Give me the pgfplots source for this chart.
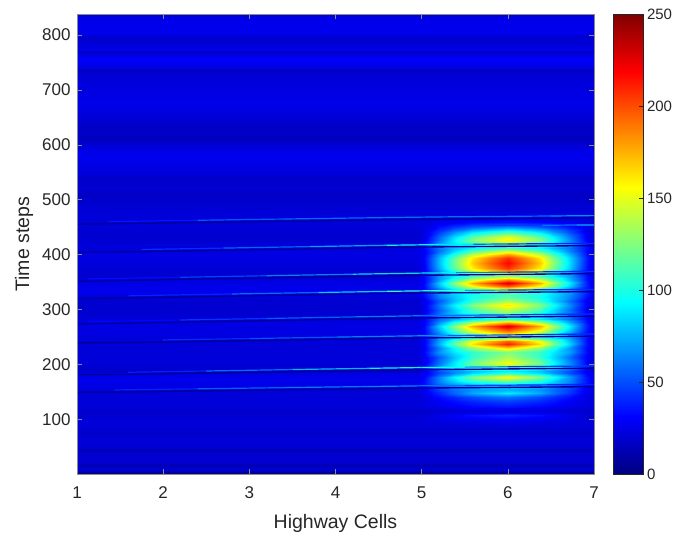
\documentclass[border=0pt]{standalone}
\usepackage{fontspec}
\setmainfont{Liberation Sans}
\usepackage{pgfplots}
\pgfplotsset{compat=1.18}
\definecolor{txt}{gray}{0.15}
\definecolor{frm}{gray}{0.55}
\begin{document}
\begin{tikzpicture}[x=1pt,y=1pt]
\path[use as bounding box] (0,0) rectangle (676,534);
\begin{axis}[
  at={(77pt,60pt)},anchor=south west,scale only axis,width=517pt,height=459.5pt,
  xmin=1,xmax=7,ymin=1,ymax=837,
  xtick={1,2,...,7},ytick={100,200,...,800},
  /pgf/number format/assume math mode=true,
  tick label style={font=\fontsize{17}{17}\selectfont,text=txt},
  xticklabel style={yshift=-9pt},
  yticklabel style={xshift=-3pt},
  label style={font=\fontsize{19.5}{19.5}\selectfont,text=txt},
  xlabel={Highway Cells},ylabel={Time steps},
  xlabel style={at={(axis description cs:0.5,0)},anchor=center,yshift=-49pt},
  ylabel style={at={(axis description cs:0,0.5)},anchor=center,xshift=0pt,yshift=53pt},
  axis line style={color=frm,line width=0.45pt},
  tick style={color=frm,line width=0.45pt},
  tick align=inside,major tick length=5pt,
  axis on top,
  colormap/jet,
  point meta min=0,point meta max=250,
  dk/.style={mesh,point meta=explicit,line width=1.35pt,line cap=butt},
  st/.style={mesh,point meta=explicit,line width=1.2pt,line cap=butt},
]
% upper background
\addplot[surf,shader=interp,mesh/cols=2,point meta=explicit] table[row sep=\\,meta=c] {
x y c\\
1 474 22\\7 474 22\\1 490 20\\7 490 20\\1 512 17\\7 512 17\\1 518 20\\7 518 20\\1 542 18\\7 542 18\\1 545 22\\7 545 22\\
1 578 27\\7 578 27\\1 591 25\\7 591 25\\1 611 16\\7 611 16\\1 614 14\\7 614 14\\1 618 18\\7 618 18\\1 633 17\\7 633 17\\
1 649 21\\7 649 21\\1 676 26\\7 676 26\\1 700 24\\7 700 24\\1 718 22\\7 718 22\\1 733 20\\7 733 20\\1 736 14\\7 736 14\\
1 740 24\\7 740 24\\1 754 30\\7 754 30\\1 765 24\\7 765 24\\1 769 16\\7 769 16\\1 775 26\\7 775 26\\1 787 20\\7 787 20\\
1 798 20\\7 798 20\\1 804 27\\7 804 27\\1 827 26\\7 827 26\\1 837 22\\7 837 22\\
};
% lower background
\addplot[surf,shader=interp,mesh/cols=2,point meta=explicit] table[row sep=\\,meta=c] {
x y c\\
1 1 6\\7 1 6\\1 4 4\\7 4 4\\1 6.5 16\\7 6.5 16\\1 12 20\\7 12 20\\1 17 12\\7 17 12\\1 23 20\\7 23 20\\1 39 20\\7 39 20\\
1 45 12\\7 45 12\\1 48 20\\7 48 20\\1 63 22\\7 63 22\\1 77 18\\7 77 18\\1 88 22\\7 88 22\\
};
% glow zone
\addplot[surf,shader=interp,mesh/cols=14,point meta=explicit] table[row sep=\\,meta=c] {
x y c\\
1 474 22\\4.95 474 22\\5.03 474 22\\5.2 474 22\\5.38 474 22\\5.6 474 22\\5.78 474 22\\6 474 23\\6.2 474 22\\6.37 474 22\\6.52 474 22\\6.72 474 22\\6.92 474 22\\7 474 22\\
1 460 22\\4.95 460 22\\5.03 460 23\\5.2 460 26\\5.38 460 28\\5.6 460 32\\5.78 460 33\\6 460 35\\6.2 460 33\\6.37 460 32\\6.52 460 29\\6.72 460 26\\6.92 460 23\\7 460 22\\
1 451 22\\4.95 451 22\\5.03 451 24\\5.2 451 34\\5.38 451 44\\5.6 451 54\\5.78 451 59\\6 451 65\\6.2 451 59\\6.37 451 54\\6.52 451 46\\6.72 451 36\\6.92 451 25\\7 451 22\\
1 441 20\\4.95 441 20\\5.03 441 24\\5.2 441 45\\5.38 441 65\\5.6 441 88\\5.78 441 98\\6 441 110\\6.2 441 98\\6.37 441 88\\6.52 441 70\\6.72 441 49\\6.92 441 26\\7 441 20\\
1 432 20\\4.95 432 20\\5.03 432 25\\5.2 432 56\\5.38 432 85\\5.6 432 118\\5.78 432 133\\6 432 150\\6.2 432 133\\6.37 432 118\\6.52 432 92\\6.72 432 62\\6.92 432 29\\7 432 20\\
1 427 20\\4.95 427 20\\5.03 427 26\\5.2 427 59\\5.38 427 90\\5.6 427 125\\5.78 427 142\\6 427 160\\6.2 427 142\\6.37 427 125\\6.52 427 97\\6.72 427 65\\6.92 427 30\\7 427 20\\
1 420 22\\4.95 420 22\\5.03 420 33\\5.2 420 68\\5.38 420 88\\5.6 420 108\\5.78 420 118\\6 420 130\\6.2 420 118\\6.37 420 108\\6.52 420 90\\6.72 420 70\\6.92 420 36\\7 420 22\\
1 412 22\\4.95 412 22\\5.03 412 32\\5.2 412 60\\5.38 412 78\\5.6 412 93\\5.78 412 102\\6 412 110\\6.2 412 102\\6.37 412 93\\6.52 412 78\\6.72 412 60\\6.92 412 34\\7 412 22\\
1 407 24\\4.95 407 24\\5.03 407 29\\5.2 407 58\\5.38 407 84\\5.6 407 115\\5.78 407 129\\6 407 145\\6.2 407 129\\6.37 407 115\\6.52 407 91\\6.72 407 63\\6.92 407 32\\7 407 24\\
1 400 24\\4.95 400 24\\5.03 400 30\\5.2 400 69\\5.38 400 104\\5.6 400 145\\5.78 400 164\\6 400 185\\6.2 400 164\\6.37 400 145\\6.52 400 113\\6.72 400 76\\6.92 400 35\\7 400 24\\
1 394 24\\4.95 394 24\\5.03 394 31\\5.2 394 76\\5.38 394 116\\5.6 394 162\\5.78 394 184\\6 394 208\\6.2 394 184\\6.37 394 162\\6.52 394 125\\6.72 394 83\\6.92 394 37\\7 394 24\\
1 385 22\\4.95 385 22\\5.03 385 30\\5.2 385 77\\5.38 385 120\\5.6 385 169\\5.78 385 193\\6 385 218\\6.2 385 193\\6.37 385 169\\6.52 385 130\\6.72 385 85\\6.92 385 36\\7 385 22\\
1 376 22\\4.95 376 22\\5.03 376 29\\5.2 376 74\\5.38 376 115\\5.6 376 161\\5.78 376 184\\6 376 208\\6.2 376 184\\6.37 376 161\\6.52 376 124\\6.72 376 82\\6.92 376 35\\7 376 22\\
1 369 20\\4.95 369 20\\5.03 369 26\\5.2 369 63\\5.38 369 98\\5.6 369 136\\5.78 369 155\\6 369 175\\6.2 369 155\\6.37 369 136\\6.52 369 105\\6.72 369 70\\6.92 369 31\\7 369 20\\
1 361 20\\4.95 361 20\\5.03 361 32\\5.2 361 68\\5.38 361 90\\5.6 361 110\\5.78 361 118\\6 361 130\\6.2 361 118\\6.37 361 110\\6.52 361 92\\6.72 361 70\\6.92 361 34\\7 361 20\\
1 354 24\\4.95 354 24\\5.03 354 31\\5.2 354 70\\5.38 354 107\\5.6 354 148\\5.78 354 168\\6 354 190\\6.2 354 168\\6.37 354 148\\6.52 354 115\\6.72 354 77\\6.92 354 36\\7 354 24\\
1 349 24\\4.95 349 24\\5.03 349 32\\5.2 349 81\\5.38 349 126\\5.6 349 177\\5.78 349 201\\6 349 228\\6.2 349 201\\6.37 349 177\\6.52 349 136\\6.72 349 89\\6.92 349 38\\7 349 24\\
1 343 26\\4.95 343 26\\5.03 343 33\\5.2 343 75\\5.38 343 113\\5.6 343 156\\5.78 343 177\\6 343 200\\6.2 343 177\\6.37 343 156\\6.52 343 122\\6.72 343 82\\6.92 343 38\\7 343 26\\
1 338 26\\4.95 338 26\\5.03 338 31\\5.2 338 62\\5.38 338 90\\5.6 338 123\\5.78 338 138\\6 338 155\\6.2 338 138\\6.37 338 123\\6.52 338 97\\6.72 338 67\\6.92 338 35\\7 338 26\\
1 330 26\\4.95 330 26\\5.03 330 36\\5.2 330 66\\5.38 330 84\\5.6 330 100\\5.78 330 106\\6 330 115\\6.2 330 106\\6.37 330 100\\6.52 330 86\\6.72 330 68\\6.92 330 38\\7 330 26\\
1 323 22\\4.95 323 22\\5.03 323 32\\5.2 323 62\\5.38 323 80\\5.6 323 98\\5.78 323 106\\6 323 115\\6.2 323 106\\6.37 323 98\\6.52 323 84\\6.72 323 64\\6.92 323 34\\7 323 22\\
1 316 20\\4.95 316 20\\5.03 316 25\\5.2 316 52\\5.38 316 77\\5.6 316 106\\5.78 316 120\\6 316 135\\6.2 316 120\\6.37 316 106\\6.52 316 83\\6.72 316 57\\6.92 316 28\\7 316 20\\
1 309 20\\4.95 309 20\\5.03 309 26\\5.2 309 60\\5.38 309 91\\5.6 309 126\\5.78 309 144\\6 309 162\\6.2 309 144\\6.37 309 126\\6.52 309 98\\6.72 309 65\\6.92 309 30\\7 309 20\\
1 299 20\\4.95 299 20\\5.03 299 25\\5.2 299 54\\5.38 299 80\\5.6 299 110\\5.78 299 124\\6 299 140\\6.2 299 124\\6.37 299 110\\6.52 299 86\\6.72 299 58\\6.92 299 28\\7 299 20\\
1 290 20\\4.95 290 20\\5.03 290 30\\5.2 290 60\\5.38 290 80\\5.6 290 96\\5.78 290 105\\6 290 115\\6.2 290 105\\6.37 290 96\\6.52 290 82\\6.72 290 62\\6.92 290 32\\7 290 20\\
1 283 22\\4.95 283 22\\5.03 283 30\\5.2 283 56\\5.38 283 74\\5.6 283 90\\5.78 283 97\\6 283 105\\6.2 283 97\\6.37 283 90\\6.52 283 76\\6.72 283 58\\6.92 283 32\\7 283 22\\
1 278 24\\4.95 278 24\\5.03 278 30\\5.2 278 65\\5.38 278 97\\5.6 278 133\\5.78 278 151\\6 278 170\\6.2 278 151\\6.37 278 133\\6.52 278 104\\6.72 278 71\\6.92 278 34\\7 278 24\\
1 270 24\\4.95 270 24\\5.03 270 32\\5.2 270 81\\5.38 270 126\\5.6 270 177\\5.78 270 201\\6 270 228\\6.2 270 201\\6.37 270 177\\6.52 270 136\\6.72 270 89\\6.92 270 38\\7 270 24\\
1 263 24\\4.95 263 24\\5.03 263 31\\5.2 263 73\\5.38 263 112\\5.6 263 156\\5.78 263 177\\6 263 200\\6.2 263 177\\6.37 263 156\\6.52 263 121\\6.72 263 80\\6.92 263 36\\7 263 24\\
1 256 24\\4.95 256 24\\5.03 256 30\\5.2 256 63\\5.38 256 94\\5.6 256 130\\5.78 256 147\\6 256 165\\6.2 256 147\\6.37 256 130\\6.52 256 102\\6.72 256 69\\6.92 256 34\\7 256 24\\
1 249 22\\4.95 249 22\\5.03 249 32\\5.2 249 68\\5.38 249 88\\5.6 249 106\\5.78 249 115\\6 249 125\\6.2 249 115\\6.37 249 106\\6.52 249 90\\6.72 249 70\\6.92 249 34\\7 249 22\\
1 243 22\\4.95 243 22\\5.03 243 29\\5.2 243 70\\5.38 243 108\\5.6 243 152\\5.78 243 173\\6 243 195\\6.2 243 173\\6.37 243 152\\6.52 243 117\\6.72 243 77\\6.92 243 34\\7 243 22\\
1 238 22\\4.95 238 22\\5.03 238 30\\5.2 238 75\\5.38 238 117\\5.6 238 164\\5.78 238 187\\6 238 212\\6.2 238 187\\6.37 238 164\\6.52 238 126\\6.72 238 83\\6.92 238 35\\7 238 22\\
1 230 22\\4.95 230 22\\5.03 230 28\\5.2 230 62\\5.38 230 93\\5.6 230 129\\5.78 230 146\\6 230 165\\6.2 230 146\\6.37 230 129\\6.52 230 101\\6.72 230 68\\6.92 230 32\\7 230 22\\
1 223 22\\4.95 223 22\\5.03 223 32\\5.2 223 68\\5.38 223 88\\5.6 223 106\\5.78 223 115\\6 223 125\\6.2 223 115\\6.37 223 106\\6.52 223 90\\6.72 223 70\\6.92 223 34\\7 223 22\\
1 214 22\\4.95 214 22\\5.03 214 27\\5.2 214 54\\5.38 214 78\\5.6 214 107\\5.78 214 120\\6 214 135\\6.2 214 120\\6.37 214 107\\6.52 214 84\\6.72 214 58\\6.92 214 30\\7 214 22\\
1 203 22\\4.95 203 22\\5.03 203 27\\5.2 203 59\\5.38 203 88\\5.6 203 122\\5.78 203 138\\6 203 155\\6.2 203 138\\6.37 203 122\\6.52 203 95\\6.72 203 65\\6.92 203 31\\7 203 22\\
1 196 20\\4.95 196 20\\5.03 196 32\\5.2 196 68\\5.38 196 88\\5.6 196 108\\5.78 196 118\\6 196 130\\6.2 196 118\\6.37 196 108\\6.52 196 90\\6.72 196 70\\6.92 196 34\\7 196 20\\
1 188 18\\4.95 188 18\\5.03 188 26\\5.2 188 50\\5.38 188 66\\5.6 188 78\\5.78 188 84\\6 188 90\\6.2 188 84\\6.37 188 78\\6.52 188 66\\6.72 188 50\\6.92 188 28\\7 188 18\\
1 185 24\\4.95 185 24\\5.03 185 27\\5.2 185 47\\5.38 185 64\\5.6 185 85\\5.78 185 94\\6 185 105\\6.2 185 94\\6.37 185 85\\6.52 185 69\\6.72 185 50\\6.92 185 30\\7 185 24\\
1 178 26\\4.95 178 26\\5.03 178 31\\5.2 178 63\\5.38 178 92\\5.6 178 125\\5.78 178 141\\6 178 158\\6.2 178 141\\6.37 178 125\\6.52 178 99\\6.72 178 68\\6.92 178 35\\7 178 26\\
1 168 26\\4.95 168 26\\5.03 168 34\\5.2 168 62\\5.38 168 80\\5.6 168 96\\5.78 168 103\\6 168 110\\6.2 168 103\\6.37 168 96\\6.52 168 82\\6.72 168 64\\6.92 168 36\\7 168 26\\
1 161 24\\4.95 161 24\\5.03 161 30\\5.2 161 50\\5.38 161 62\\5.6 161 72\\5.78 161 76\\6 161 80\\6.2 161 76\\6.37 161 72\\6.52 161 62\\6.72 161 50\\6.92 161 30\\7 161 24\\
1 154 22\\4.95 154 22\\5.03 154 28\\5.2 154 46\\5.38 154 58\\5.6 154 68\\5.78 154 72\\6 154 75\\6.2 154 72\\6.37 154 68\\6.52 154 58\\6.72 154 46\\6.92 154 28\\7 154 22\\
1 148 22\\4.95 148 22\\5.03 148 25\\5.2 148 41\\5.38 148 56\\5.6 148 73\\5.78 148 81\\6 148 90\\6.2 148 81\\6.37 148 73\\6.52 148 59\\6.72 148 44\\6.92 148 27\\7 148 22\\
1 141 22\\4.95 141 22\\5.03 141 24\\5.2 141 33\\5.38 141 41\\5.6 141 50\\5.78 141 55\\6 141 60\\6.2 141 55\\6.37 141 50\\6.52 141 43\\6.72 141 34\\6.92 141 25\\7 141 22\\
1 132 22\\4.95 132 22\\5.03 132 23\\5.2 132 28\\5.38 132 33\\5.6 132 39\\5.78 132 42\\6 132 45\\6.2 132 42\\6.37 132 39\\6.52 132 35\\6.72 132 29\\6.92 132 24\\7 132 22\\
1 123 22\\4.95 123 22\\5.03 123 23\\5.2 123 26\\5.38 123 28\\5.6 123 32\\5.78 123 33\\6 123 35\\6.2 123 33\\6.37 123 32\\6.52 123 29\\6.72 123 26\\6.92 123 23\\7 123 22\\
1 116 18\\4.95 116 18\\5.03 116 18\\5.2 116 19\\5.38 116 19\\5.6 116 20\\5.78 116 20\\6 116 20\\6.2 116 20\\6.37 116 20\\6.52 116 19\\6.72 116 19\\6.92 116 18\\7 116 18\\
1 108 20\\4.95 108 20\\5.03 108 21\\5.2 108 26\\5.38 108 30\\5.6 108 35\\5.78 108 37\\6 108 40\\6.2 108 37\\6.37 108 35\\6.52 108 31\\6.72 108 26\\6.92 108 21\\7 108 20\\
1 99 22\\4.95 99 22\\5.03 99 22\\5.2 99 24\\5.38 99 25\\5.6 99 26\\5.78 99 27\\6 99 28\\6.2 99 27\\6.37 99 26\\6.52 99 25\\6.72 99 24\\6.92 99 22\\7 99 22\\
1 88 22\\4.95 88 22\\5.03 88 22\\5.2 88 22\\5.38 88 22\\5.6 88 22\\5.78 88 22\\6 88 23\\6.2 88 22\\6.37 88 22\\6.52 88 22\\6.72 88 22\\6.92 88 22\\7 88 22\\
};
% dark lines
\addplot[dk] coordinates {(1,455.5)[6] (1.36,456.2)[6] (4.86,464)[6] (7,467)[6]};
\addplot[dk] coordinates {(1,404.5)[6] (1.75,405.4)[6] (4.86,413.8)[6] (7,416.5)[6]};
\addplot[dk] coordinates {(1,351.6)[6] (4.86,362.3)[6] (7,365.6)[6]};
\addplot[dk] coordinates {(1,320.5)[6] (1.6,321.3)[6] (4.86,330)[6] (7,332.8)[6]};
\addplot[dk] coordinates {(1,273.8)[6] (4.86,284.6)[6] (7,288.2)[6]};
\addplot[dk] coordinates {(1,239.5)[6] (2,240.9)[6] (4.8,248.1)[6] (7,251.8)[6]};
\addplot[dk] coordinates {(1,181.5)[6] (1.59,182.1)[6] (4.86,190.5)[6] (7,193.6)[6]};
\addplot[dk] coordinates {(1,149.5)[6] (1.44,149.9)[6] (4.86,157.2)[6] (7,159.9)[6]};
% streaks
\addplot[st] coordinates {(1.36,460.2)[28] (2.4,462.6)[45] (3.4,464.9)[60] (4.4,467.1)[55] (5.2,468.7)[62] (5.8,469.5)[55] (6.5,470.4)[60] (7,471.1)[72]};
\addplot[st] coordinates {(1.75,409.4)[35] (2.7,412)[50] (3.7,414.7)[62] (4.6,417.1)[80] (5.2,418.4)[105] (5.6,419)[70] (6,419.5)[42] (7,420.5)[38]};
\addplot[st] coordinates {(1.13,355.9)[28] (2.2,358.9)[40] (3.2,361.7)[55] (4.2,364.5)[70] (5,366.5)[100] (5.4,367.3)[80] (6,368.2)[45] (7,369.6)[40]};
\addplot[st] coordinates {(1.6,325.3)[35] (2.8,328.5)[45] (3.8,331.2)[70] (4.6,333.3)[95] (5.1,334.4)[115] (5.5,335)[100] (6,335.7)[45] (7,336.8)[40]};
\addplot[st] coordinates {(1.13,278.2)[26] (2.2,281.2)[38] (3.2,283.9)[50] (4.2,286.8)[58] (5,289)[65] (5.6,290)[50] (6,290.5)[42] (7,292.2)[40]};
\addplot[st] coordinates {(2,244.9)[35] (3,247.4)[48] (4,250)[55] (4.8,252.1)[70] (5.3,252.9)[65] (6,254)[42] (7,255.8)[40]};
\addplot[st] coordinates {(1.59,186.1)[30] (2.5,188.4)[48] (3.5,191)[68] (4.4,193.3)[85] (5,194.7)[100] (5.5,195.4)[90] (6,196.1)[48] (7,197.6)[42]};
\addplot[st] coordinates {(1.44,153.9)[30] (2.4,156)[50] (3.4,158.1)[60] (4.4,160.2)[62] (5,161.4)[65] (5.5,162)[55] (6,162.6)[40] (7,163.9)[38]};
\addplot[st] coordinates {(5.7,453)[40] (6.4,453.5)[50] (6.8,454)[70] (7,454.2)[80]};
\end{axis}
% colour scale
\begin{axis}[
  at={(613.5pt,60pt)},anchor=south west,scale only axis,width=30pt,height=459.5pt,
  xmin=0,xmax=1,ymin=0,ymax=250,
  xtick=\empty,ytick={0,50,...,250},
  ytick pos=right,yticklabel pos=right,
  /pgf/number format/assume math mode=true,
  tick label style={font=\fontsize{15}{15}\selectfont,text=txt},
  axis line style={color=txt,line width=0.5pt},
  tick style={color=txt,line width=0.5pt},
  tick align=inside,major tick length=5pt,
  axis on top,
  colormap/jet,
  point meta min=0,point meta max=250,
]
\addplot[surf,shader=interp,mesh/cols=2,point meta=explicit] table[row sep=\\,meta=c] {
x y c\\
0 0 0\\1 0 0\\0 31.25 31.25\\1 31.25 31.25\\0 93.75 93.75\\1 93.75 93.75\\0 156.25 156.25\\1 156.25 156.25\\0 218.75 218.75\\1 218.75 218.75\\0 250 250\\1 250 250\\
};
\end{axis}
\end{tikzpicture}
\end{document}
